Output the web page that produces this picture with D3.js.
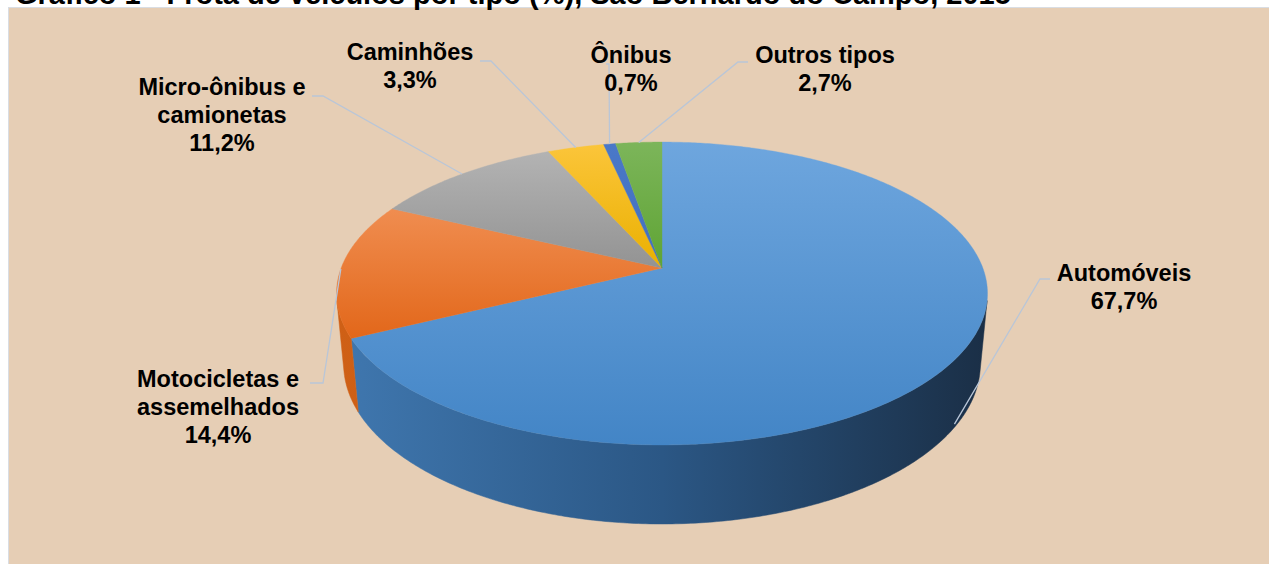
<!DOCTYPE html>
<html><head><meta charset="utf-8">
<script src="https://cdn.jsdelivr.net/npm/d3@7"></script>
<style>
html,body{margin:0;padding:0;background:#fff;overflow:hidden}
svg{display:block;font-family:"Liberation Sans",Arial,sans-serif}
</style></head><body>
<svg id="c" width="1269" height="564"></svg>
<script>
// ---- data ----
const categories = ["Automóveis","Motocicletas e assemelhados","Micro-ônibus e camionetas","Caminhões","Ônibus","Outros tipos"];
const values = [67.7, 14.4, 11.2, 3.3, 0.7, 2.7];
const labelLines = [["Automóveis"],["Motocicletas e","assemelhados"],["Micro-ônibus e","camionetas"],["Caminhões"],["Ônibus"],["Outros tipos"]];
const valueLabels = ["67,7%","14,4%","11,2%","3,3%","0,7%","2,7%"];
const title = "Gráfico 1 - Frota de veículos por tipo (%), São Bernardo do Campo, 2015";

// ---- styles / layout ----
const topColors = [["#6ea6de","#4385c6"],["#f08d50","#e2671a"],["#b3b3b3","#939393"],["#fbc53a","#eab000"],["#4a78c8","#4270c0"],["#7cb55a","#5fa434"]];
const sideColors = [["#4078b0","#2b5785","#1a2e45"],["#cf6016","#c2570f","#b04e0e"],["#8a8a8a","#7a7a7a","#6a6a6a"],["#d9a300","#c99600","#b98a00"],["#3a62a8","#34589a","#2e4e8a"],["#5a9133","#4f832c","#457526"]];
const labelPos = [[1124,281],[218,387],[222,95],[410,60],[631,63],[825,63]];
const leaders = [[[1040,279],[1050,279]],[[323,383],[310,383]],[[323,96],[312,96]],[[491,61],[480,61]],[[609,64],[606,64]],[[738,62],[748,62]]];
const leaderY = [0.95,0,0,0,0,0]; // fraction of height down for target point

const svg = d3.select("#c");
const defs = svg.append("defs");

// background
svg.append("rect").attr("x",8.5).attr("y",7.5).attr("width",1262).attr("height",560)
  .attr("fill","#e6ceb5").attr("stroke","#d9dde3").attr("stroke-width",1);

// title (clipped at the top as in reference)
svg.append("text").attr("x",15).attr("y",4).attr("font-size",29).attr("font-weight","bold")
  .attr("fill","#000").text(title);

// ---- 3D perspective projection ----
const cx = 662, cy = 268, F = 1693, L = 1, R = 0.1895, H = 0.0474;
const phi = 27.3*Math.PI/180, sp = Math.sin(phi), cp = Math.cos(phi);
function proj(theta, r, y){ // theta clockwise from 12 o'clock, r fraction of R, y world height (0 top)
  const X = R*r*Math.sin(theta), Z = R*r*Math.cos(theta);
  const depth = L - y*sp + Z*cp;
  const up = y*cp + Z*sp;
  return [cx + F*X/depth, cy - F*up/depth];
}
const tVis = Math.acos(-R/(L*cp)); // silhouette angle
const visMin = tVis, visMax = 2*Math.PI - tVis;

const pie = d3.pie().sort(null).value(d=>d).startAngle(0).endAngle(2*Math.PI);
const arcs = pie(values);

function arcPts(a0,a1,y){
  const n = Math.max(2, Math.ceil((a1-a0)/0.01));
  return d3.range(n+1).map(i=>proj(a0+(a1-a0)*i/n,1,y));
}
const line = d3.line();

// gradients
arcs.forEach((a,i)=>{
  const g = defs.append("linearGradient").attr("id","top"+i).attr("x1",0).attr("y1",0).attr("x2",0).attr("y2",1);
  g.append("stop").attr("offset",0).attr("stop-color",topColors[i][0]);
  g.append("stop").attr("offset",1).attr("stop-color",topColors[i][1]);
  const s = defs.append("linearGradient").attr("id","side"+i).attr("gradientUnits","userSpaceOnUse")
    .attr("x1",cx-330).attr("y1",0).attr("x2",cx+330).attr("y2",0);
  s.append("stop").attr("offset",0).attr("stop-color",sideColors[i][0]);
  s.append("stop").attr("offset",0.5).attr("stop-color",sideColors[i][1]);
  s.append("stop").attr("offset",1).attr("stop-color",sideColors[i][2]);
});

// side walls (front-visible portion)
arcs.forEach((a,i)=>{
  const a0 = Math.max(a.startAngle, visMin), a1 = Math.min(a.endAngle, visMax);
  if (a1 <= a0) return;
  const pts = arcPts(a0,a1,0).concat(arcPts(a0,a1,-H).reverse());
  svg.append("path").attr("d", line(pts)+"Z").attr("fill","url(#side"+i+")")
    .attr("stroke","url(#side"+i+")").attr("stroke-width",0.5);
});

// top faces
arcs.forEach((a,i)=>{
  const pts = [proj(0,0,0)].concat(arcPts(a.startAngle,a.endAngle,0));
  svg.append("path").attr("d", line(pts)+"Z").attr("fill","url(#top"+i+")")
    .attr("stroke","url(#top"+i+")").attr("stroke-width",0.4);
});

// leader lines
arcs.forEach((a,i)=>{
  const mid = (a.startAngle+a.endAngle)/2;
  const t = proj(mid,1,-H*leaderY[i]);
  const pts = [t].concat(leaders[i]);
  svg.append("path").attr("d", line(pts)).attr("fill","none")
    .attr("stroke","#b9c6d8").attr("stroke-width",1.3);
});

// labels
arcs.forEach((a,i)=>{
  const lines = labelLines[i].concat([valueLabels[i]]);
  const t = svg.append("text").attr("text-anchor","middle").attr("font-size",23.5)
    .attr("font-weight","bold").attr("fill","#000");
  lines.forEach((s,k)=>{
    t.append("tspan").attr("x",labelPos[i][0]).attr("y",labelPos[i][1]+28*k).text(s);
  });
});
</script>
</body></html>
